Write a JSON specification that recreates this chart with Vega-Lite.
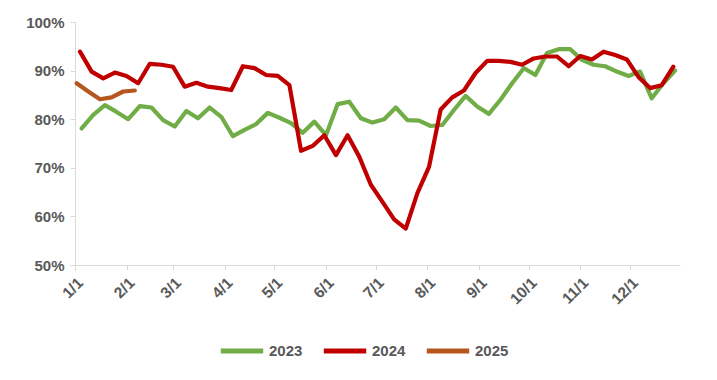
{
  "$schema": "https://vega.github.io/schema/vega-lite/v6.json",
  "width": 605,
  "height": 243,
  "autosize": {"type": "none"},
  "padding": {"left": 75, "top": 22, "right": 37, "bottom": 115},
  "background": "white",
  "config": {"view": {"stroke": null}, "font": "Liberation Sans"},
  "datasets": {
    "d2023": [
      {"date":"2023-01-05","v":78.1},{"date":"2023-01-12","v":80.9},{"date":"2023-01-19","v":82.9},{"date":"2023-01-26","v":81.5},
      {"date":"2023-02-02","v":80.0},{"date":"2023-02-09","v":82.7},{"date":"2023-02-16","v":82.4},{"date":"2023-02-23","v":79.8},
      {"date":"2023-03-02","v":78.5},{"date":"2023-03-09","v":81.7},{"date":"2023-03-16","v":80.2},{"date":"2023-03-23","v":82.4},{"date":"2023-03-30","v":80.5},
      {"date":"2023-04-06","v":76.5},{"date":"2023-04-13","v":77.8},{"date":"2023-04-20","v":79.0},{"date":"2023-04-27","v":81.3},
      {"date":"2023-05-04","v":80.3},{"date":"2023-05-11","v":79.2},{"date":"2023-05-18","v":77.2},{"date":"2023-05-25","v":79.5},
      {"date":"2023-06-01","v":76.7},{"date":"2023-06-08","v":83.1},{"date":"2023-06-15","v":83.6},{"date":"2023-06-22","v":80.2},{"date":"2023-06-29","v":79.3},
      {"date":"2023-07-06","v":80.0},{"date":"2023-07-13","v":82.4},{"date":"2023-07-20","v":79.8},{"date":"2023-07-27","v":79.7},
      {"date":"2023-08-03","v":78.6},{"date":"2023-08-10","v":78.8},{"date":"2023-08-17","v":81.9},{"date":"2023-08-24","v":84.8},{"date":"2023-08-31","v":82.6},
      {"date":"2023-09-07","v":81.1},{"date":"2023-09-14","v":84.0},{"date":"2023-09-21","v":87.4},{"date":"2023-09-28","v":90.5},
      {"date":"2023-10-05","v":89.1},{"date":"2023-10-12","v":93.6},{"date":"2023-10-19","v":94.4},{"date":"2023-10-26","v":94.4},
      {"date":"2023-11-02","v":92.2},{"date":"2023-11-09","v":91.2},{"date":"2023-11-16","v":90.9},{"date":"2023-11-23","v":89.8},{"date":"2023-11-30","v":88.9},
      {"date":"2023-12-07","v":89.8},{"date":"2023-12-14","v":84.3},{"date":"2023-12-21","v":87.4},{"date":"2023-12-28","v":90.0}
    ],
    "d2024": [
      {"date":"2023-01-04","v":93.9},{"date":"2023-01-11","v":89.8},{"date":"2023-01-18","v":88.4},{"date":"2023-01-25","v":89.6},
      {"date":"2023-02-01","v":88.9},{"date":"2023-02-08","v":87.4},{"date":"2023-02-15","v":91.4},{"date":"2023-02-22","v":91.2},
      {"date":"2023-03-01","v":90.8},{"date":"2023-03-08","v":86.7},{"date":"2023-03-15","v":87.5},{"date":"2023-03-22","v":86.7},{"date":"2023-03-29","v":86.4},
      {"date":"2023-04-05","v":86.0},{"date":"2023-04-12","v":90.9},{"date":"2023-04-19","v":90.5},{"date":"2023-04-26","v":89.1},
      {"date":"2023-05-03","v":88.9},{"date":"2023-05-10","v":87.0},{"date":"2023-05-17","v":73.5},{"date":"2023-05-24","v":74.5},{"date":"2023-05-31","v":76.7},
      {"date":"2023-06-07","v":72.6},{"date":"2023-06-14","v":76.7},{"date":"2023-06-21","v":72.3},{"date":"2023-06-28","v":66.5},
      {"date":"2023-07-05","v":63.0},{"date":"2023-07-12","v":59.4},{"date":"2023-07-19","v":57.5},{"date":"2023-07-26","v":64.8},
      {"date":"2023-08-02","v":70.2},{"date":"2023-08-09","v":82.0},{"date":"2023-08-16","v":84.5},{"date":"2023-08-23","v":85.9},{"date":"2023-08-30","v":89.5},
      {"date":"2023-09-06","v":92.0},{"date":"2023-09-13","v":92.0},{"date":"2023-09-20","v":91.8},{"date":"2023-09-27","v":91.2},
      {"date":"2023-10-04","v":92.5},{"date":"2023-10-11","v":92.9},{"date":"2023-10-18","v":92.9},{"date":"2023-10-25","v":90.9},
      {"date":"2023-11-01","v":93.0},{"date":"2023-11-08","v":92.3},{"date":"2023-11-15","v":93.9},{"date":"2023-11-22","v":93.2},{"date":"2023-11-29","v":92.3},
      {"date":"2023-12-06","v":88.7},{"date":"2023-12-13","v":86.4},{"date":"2023-12-20","v":87.0},{"date":"2023-12-27","v":90.8}
    ],
    "d2025": [
      {"date":"2023-01-02","v":87.4},{"date":"2023-01-09","v":85.7},{"date":"2023-01-16","v":84.1},{"date":"2023-01-23","v":84.5},
      {"date":"2023-01-30","v":85.7},{"date":"2023-02-06","v":85.9}
    ]
  },
  "data": {"name": "d2023"},
  "transform": [
    {"calculate": "'2023'", "as": "year"}
  ],
  "layer": [
    {
      "mark": {"type": "line", "strokeWidth": 4.2, "strokeJoin": "round", "strokeCap": "round"},
      "encoding": {
        "x": {"field": "date", "type": "temporal"},
        "y": {"field": "v", "type": "quantitative"},
        "color": {"field": "year", "type": "nominal"}
      }
    },
    {
      "data": {"name": "d2024"},
      "transform": [{"calculate": "'2024'", "as": "year"}],
      "mark": {"type": "line", "strokeWidth": 4.2, "strokeJoin": "round", "strokeCap": "round"},
      "encoding": {
        "x": {"field": "date", "type": "temporal"},
        "y": {"field": "v", "type": "quantitative"},
        "color": {"field": "year", "type": "nominal"}
      }
    },
    {
      "data": {"name": "d2025"},
      "transform": [{"calculate": "'2025'", "as": "year"}],
      "mark": {"type": "line", "strokeWidth": 4.2, "strokeJoin": "round", "strokeCap": "round"},
      "encoding": {
        "x": {"field": "date", "type": "temporal"},
        "y": {"field": "v", "type": "quantitative"},
        "color": {"field": "year", "type": "nominal"}
      }
    }
  ],
  "encoding": {
    "x": {
      "field": "date", "type": "temporal",
      "scale": {"type": "utc", "domain": [{"year": 2023, "month": 1, "date": 1, "utc": true}, {"year": 2023, "month": 12, "date": 31, "utc": true}]},
      "axis": {
        "title": null, "grid": false, "tickCount": "month", "format": "%-m/%-d",
        "labelAngle": -45, "labelFontSize": 15.5, "labelFontWeight": "bold", "labelColor": "#595959",
        "domainColor": "#D9D9D9", "tickColor": "#D9D9D9", "tickSize": 5, "labelPadding": 5, "labelOverlap": false, "labelBound": false
      }
    },
    "y": {
      "field": "v", "type": "quantitative",
      "scale": {"domain": [50, 100], "nice": false, "zero": false},
      "axis": {
        "title": null, "grid": false, "values": [50, 60, 70, 80, 90, 100], "labelExpr": "datum.value + '%'",
        "labelFontSize": 15, "labelFontWeight": "bold", "labelColor": "#595959",
        "domainColor": "#D9D9D9", "tickColor": "#D9D9D9", "tickSize": 5, "labelPadding": 6
      }
    },
    "color": {
      "field": "year", "type": "nominal",
      "scale": {"domain": ["2023", "2024", "2025"], "range": ["#70AD47", "#C00000", "#B4561E"]},
      "legend": {
        "title": null, "orient": "none", "direction": "horizontal", "legendX": 143, "legendY": 305,
        "symbolType": "stroke", "symbolSize": 1800, "symbolStrokeWidth": 5,
        "labelFontSize": 15, "labelFontWeight": "bold", "labelColor": "#595959", "columnPadding": 10, "labelOffset": 3
      }
    }
  }
}
